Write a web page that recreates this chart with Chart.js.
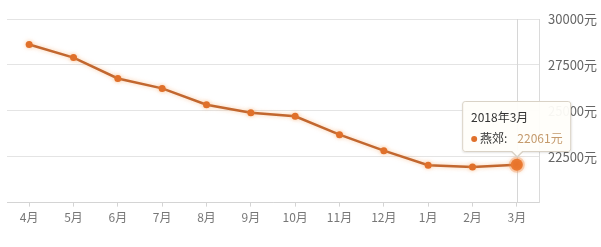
<!DOCTYPE html>
<html>
<head>
<meta charset="utf-8">
<script src="https://cdn.jsdelivr.net/npm/chart.js@4"></script>
<style>
    html, body { margin: 0; padding: 0; background: #fff; }
    #wrap { position: relative; width: 601px; height: 247px; }
    #tip {
        position: absolute; pointer-events: none; opacity: 0;
        background: rgba(255, 254, 250, 0.95);
        border: 1px solid #d9d2c6;
        border-radius: 3px;
        box-shadow: 0 1px 2px rgba(0,0,0,0.10);
        font-family: "Noto Sans CJK SC", "Noto Sans", sans-serif;
        font-size: 12px; color: #333;
        padding: 5px 8px 3px 8px;
        white-space: nowrap;
        transform: translate(-50%, -100%);
    }
    #tip .t { line-height: 20px; }
    #tip .b { line-height: 20px; margin-top: 1px; }
    #tip .dot { display: inline-block; width: 6px; height: 6px; border-radius: 3px; background: #e0702a; margin-right: 3px; vertical-align: 1px; }
    #tip .v { color: #c49a6c; margin-left: 10px; }
    #tip .caret {
        position: absolute; left: 50%; bottom: -7px; margin-left: -7px;
        width: 0; height: 0;
        border-left: 7px solid transparent; border-right: 7px solid transparent;
        border-top: 7px solid #d9d2c6;
    }
    #tip .caret:after {
        content: ''; position: absolute; left: -6px; top: -8px;
        border-left: 6px solid transparent; border-right: 6px solid transparent;
        border-top: 6px solid #fffefa;
    }
</style>
</head>
<body>
<div id="wrap">
    <canvas id="priceChart" width="601" height="247"></canvas>
    <div id="tip"></div>
</div>
<script>
// Chart data
const months = ['4月', '5月', '6月', '7月', '8月', '9月', '10月', '11月', '12月', '1月', '2月', '3月'];
const years = ['2017', '2017', '2017', '2017', '2017', '2017', '2017', '2017', '2017', '2018', '2018', '2018'];
const prices = [28610, 27900, 26760, 26220, 25330, 24900, 24700, 23700, 22830, 22040, 21940, 22061];
const seriesName = '燕郊';
const yTicks = [20000, 22500, 25000, 27500, 30000];

const font = '"Noto Sans CJK SC", "Noto Sans", sans-serif';

// external html tooltip so the value can take its own colour
function drawTip(context) {
    const tip = document.getElementById('tip');
    const tt = context.tooltip;
    if (tt.opacity === 0 || !tt.dataPoints || !tt.dataPoints.length) {
        tip.style.opacity = 0;
        return;
    }
    const dp = tt.dataPoints[0];
    tip.innerHTML = '<div class="t">' + years[dp.dataIndex] + '年' + months[dp.dataIndex] + '</div>' +
        '<div class="b"><span class="dot"></span>' + seriesName + ':<span class="v">' + prices[dp.dataIndex] + '元</span></div>' +
        '<div class="caret"></div>';
    tip.style.left = tt.caretX + 'px';
    tip.style.top = (tt.caretY - 13) + 'px';
    tip.style.opacity = 1;
}

// vertical guide line at the active point + glow on the line
const guidePlugin = {
    id: 'guide',
    beforeDatasetsDraw(chart) {
        const active = chart.getActiveElements();
        if (!active.length) return;
        const x = active[0].element.x;
        const { top, bottom } = chart.chartArea;
        const ctx = chart.ctx;
        ctx.save();
        ctx.strokeStyle = '#d6d6d6';
        ctx.lineWidth = 1;
        ctx.beginPath();
        ctx.moveTo(Math.round(x) + 0.5, top);
        ctx.lineTo(Math.round(x) + 0.5, bottom);
        ctx.stroke();
        ctx.restore();
    },
    beforeDatasetDraw(chart) {
        chart.ctx.save();
        chart.ctx.shadowColor = 'rgba(245, 160, 90, 0.55)';
        chart.ctx.shadowBlur = 4;
    },
    afterDatasetDraw(chart) {
        chart.ctx.restore();
    }
};

const chart = new Chart(document.getElementById('priceChart').getContext('2d'), {
    type: 'line',
    data: {
        labels: months,
        datasets: [{
            label: seriesName,
            data: prices,
            borderColor: '#c2672f',
            borderWidth: 2.5,
            backgroundColor: '#e0702a',
            pointBackgroundColor: '#e0702a',
            pointBorderColor: '#e0702a',
            pointRadius: 3.5,
            pointBorderWidth: 0,
            pointHoverRadius: 6,
            pointHoverBorderWidth: 4,
            pointHoverBorderColor: 'rgba(240, 130, 60, 0.3)',
            pointHoverBackgroundColor: '#e8732a',
            tension: 0
        }]
    },
    options: {
        responsive: false,
        animation: false,
        events: [],
        layout: { padding: { left: 7, right: 0, top: 19, bottom: 18 } },
        plugins: {
            legend: { display: false },
            tooltip: { enabled: false, external: drawTip }
        },
        scales: {
            x: {
                offset: true,
                grid: { display: true, drawOnChartArea: false, offset: false, color: '#d4d4d4', tickLength: 4 },
                border: { display: true, color: '#d4d4d4' },
                ticks: { color: '#777', font: { family: font, size: 12 }, padding: 4, maxRotation: 0 }
            },
            y: {
                position: 'right',
                min: yTicks[0],
                max: yTicks[yTicks.length - 1],
                afterBuildTicks(axis) { axis.ticks = yTicks.map(v => ({ value: v })); },
                afterFit(axis) { axis.width = 62; },
                grid: { color: '#e4e4e4', drawTicks: false },
                border: { display: true, color: '#dadada' },
                ticks: {
                    color: '#666',
                    font: { family: font, size: 13 },
                    padding: 9,
                    callback: v => v === yTicks[0] ? '' : v + '元'
                }
            }
        }
    },
    plugins: [guidePlugin]
});

// show the last month as the active point, like the reference
const last = prices.length - 1;
const meta = chart.getDatasetMeta(0);
chart.setActiveElements([{ datasetIndex: 0, index: last }]);
chart.tooltip.setActiveElements([{ datasetIndex: 0, index: last }], { x: meta.data[last].x, y: meta.data[last].y });
chart.update();
</script>
</body>
</html>
